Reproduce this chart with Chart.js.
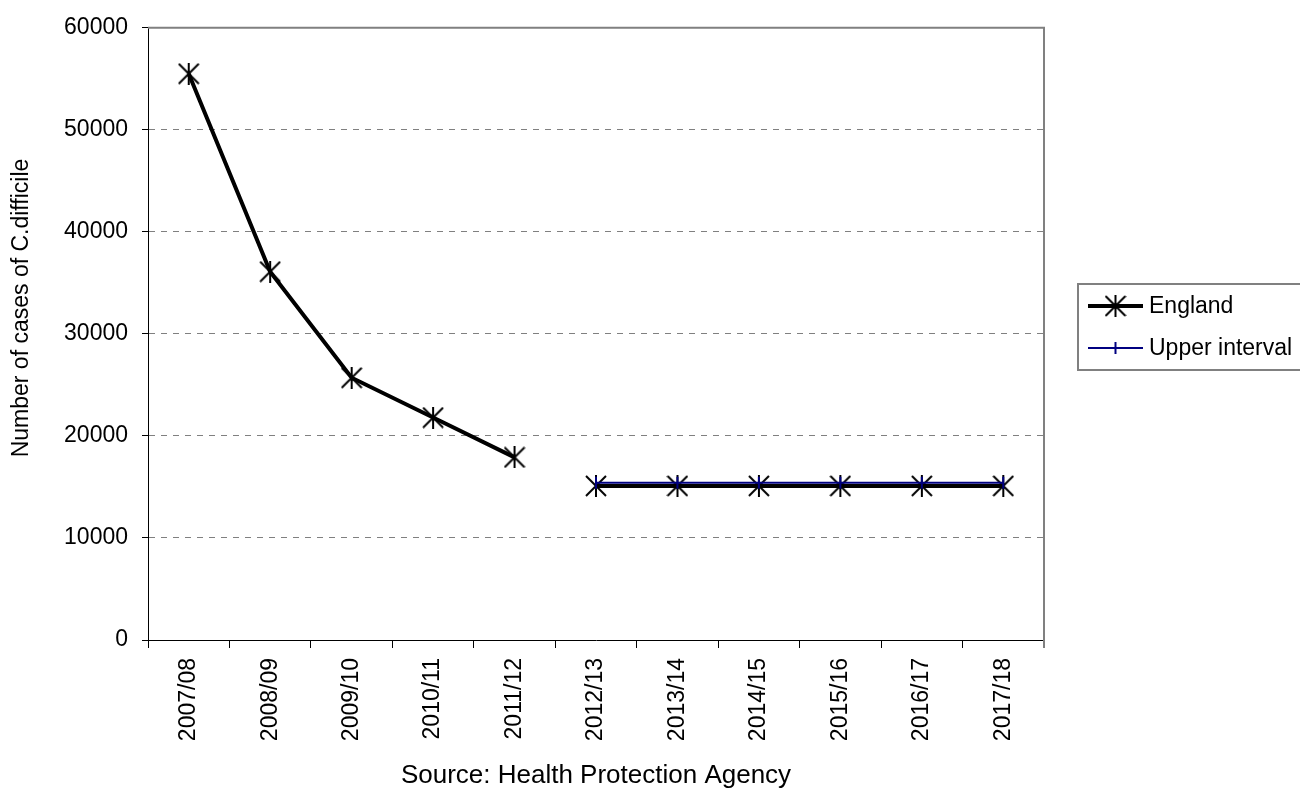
<!DOCTYPE html>
<html>
<head>
<meta charset="utf-8">
<title>C.difficile cases, England</title>
<script src="https://cdn.jsdelivr.net/npm/chart.js@4.4.1/dist/chart.umd.min.js"></script>
<style>
  html, body { margin: 0; padding: 0; background: #ffffff; }
  #wrap { position: relative; width: 1300px; height: 793px; }
</style>
</head>
<body>
<div id="wrap"><canvas id="chart" width="1300" height="793"></canvas></div>
<script>
// Financial years on the category axis
const seasons = ['2007/08', '2008/09', '2009/10', '2010/11', '2011/12', '2012/13',
                 '2013/14', '2014/15', '2015/16', '2016/17', '2017/18'];

// Reported cases of C.difficile in England
const englandCases = [55500, 36100, 25700, 21800, 17900, null, null, null, null, null, null];

// Projected level from 2012/13 (same style as England, not listed in the legend)
const englandProjection = [null, null, null, null, null, 15100, 15100, 15100, 15100, 15100, 15100];

// Upper interval of the projection
const upperInterval = [null, null, null, null, null, 15400, 15400, 15400, 15400, 15400, 15400];

// Value axis
const yMin = 0;
const yMax = 60000;
const yStep = 10000;

const yTitle = 'Number of cases of C.difficile';
const sourceNote = 'Source: Health Protection Agency';

const FONT = '"Liberation Sans", Arial, Helvetica, sans-serif';

// Asterisk marker: an X with a vertical stroke through it
function makeAsterisk(size, lw, color) {
  const c = document.createElement('canvas');
  c.width = size; c.height = size;
  const g = c.getContext('2d');
  g.strokeStyle = color;
  g.lineWidth = lw;
  g.beginPath();
  g.moveTo(1, 1); g.lineTo(size - 1, size - 1);
  g.moveTo(size - 1, 1); g.lineTo(1, size - 1);
  g.moveTo(size / 2, 0); g.lineTo(size / 2, size);
  g.stroke();
  return c;
}
const asterisk = makeAsterisk(22, 2, '#000000');

// Plot frame (top and right edges) in grey
const framePlugin = {
  id: 'frame',
  beforeDatasetsDraw(chart) {
    const { ctx, chartArea: a } = chart;
    ctx.save();
    ctx.strokeStyle = '#808080';
    ctx.lineWidth = 2;
    ctx.beginPath();
    ctx.moveTo(a.left, a.top);
    ctx.lineTo(a.right, a.top);
    ctx.lineTo(a.right, a.bottom + 8);
    ctx.stroke();
    ctx.restore();
  }
};

// Axis title, source note and boxed legend
const annotationPlugin = {
  id: 'annotations',
  afterDraw(chart) {
    const { ctx, chartArea: a } = chart;
    ctx.save();
    ctx.fillStyle = '#000000';

    // rotated value-axis title
    ctx.font = '23px ' + FONT;
    ctx.textAlign = 'center';
    ctx.textBaseline = 'middle';
    ctx.save();
    ctx.translate(22, 308);
    ctx.rotate(-Math.PI / 2);
    ctx.fillText(yTitle, 0, 0);
    ctx.restore();

    // source note under the category labels
    ctx.font = '26px ' + FONT;
    ctx.fillText(sourceNote, (a.left + a.right) / 2, 776);

    // legend box
    const bx = 1078, by = 284, bw = 230, bh = 86;
    ctx.strokeStyle = '#808080';
    ctx.lineWidth = 2;
    ctx.strokeRect(bx, by, bw, bh);

    const entries = [
      { ds: chart.data.datasets[0], y: 306, marker: 'asterisk' },
      { ds: chart.data.datasets[2], y: 348, marker: 'bar' }
    ];
    entries.forEach(e => {
      const x0 = 1088, x1 = 1143, xm = (x0 + x1) / 2;
      ctx.strokeStyle = e.ds.borderColor;
      ctx.lineWidth = e.ds.borderWidth;
      ctx.beginPath();
      ctx.moveTo(x0, e.y);
      ctx.lineTo(x1, e.y);
      ctx.stroke();
      if (e.marker === 'asterisk') {
        ctx.drawImage(asterisk, xm - 11, e.y - 11);
      } else {
        ctx.lineWidth = e.ds.pointBorderWidth;
        ctx.beginPath();
        ctx.moveTo(xm, e.y - e.ds.pointRadius);
        ctx.lineTo(xm, e.y + e.ds.pointRadius);
        ctx.stroke();
      }
      ctx.fillStyle = '#000000';
      ctx.font = '23px ' + FONT;
      ctx.textAlign = 'left';
      ctx.textBaseline = 'middle';
      ctx.fillText(e.ds.label, 1149, e.y + 1);
    });
    ctx.restore();
  }
};

new Chart(document.getElementById('chart'), {
  type: 'line',
  data: {
    labels: seasons,
    datasets: [
      {
        label: 'England',
        data: englandCases,
        borderColor: '#000000',
        backgroundColor: '#000000',
        borderWidth: 4,
        pointStyle: asterisk,
        pointRadius: 11,
        spanGaps: false,
        tension: 0,
        order: 1
      },
      {
        label: 'England projection',
        data: englandProjection,
        borderColor: '#000000',
        backgroundColor: '#000000',
        borderWidth: 4,
        pointStyle: asterisk,
        pointRadius: 11,
        spanGaps: false,
        tension: 0,
        order: 1
      },
      {
        label: 'Upper interval',
        data: upperInterval,
        borderColor: '#000080',
        backgroundColor: '#000080',
        borderWidth: 2,
        pointStyle: 'line',
        rotation: 90,
        pointRadius: 6,
        pointBorderWidth: 2,
        pointBorderColor: '#000080',
        spanGaps: false,
        tension: 0,
        order: 0
      }
    ]
  },
  options: {
    responsive: false,
    animation: false,
    devicePixelRatio: 1,
    layout: { padding: { left: 0, right: 256, top: 20, bottom: 0 } },
    plugins: {
      legend: { display: false },
      tooltip: { enabled: false }
    },
    scales: {
      x: {
        type: 'category',
        offset: true,
        afterFit(scale) { scale.height = 153; },
        grid: {
          display: true,
          offset: true,
          drawOnChartArea: false,
          drawTicks: true,
          tickLength: 8,
          tickColor: '#000000',
          tickWidth: 1
        },
        border: { display: true, color: '#000000', width: 1 },
        ticks: {
          color: '#000000',
          font: { family: FONT, size: 23 },
          minRotation: 90,
          maxRotation: 90,
          padding: 10,
          autoSkip: false
        }
      },
      y: {
        min: yMin,
        max: yMax,
        afterFit(scale) { scale.width = 148; },
        grid: {
          display: true,
          color: ctx => (ctx.tick && (ctx.tick.value === yMin || ctx.tick.value === yMax)) ? 'rgba(0,0,0,0)' : '#808080',
          lineWidth: 1,
          drawTicks: true,
          tickLength: 6,
          tickColor: '#000000',
          tickWidth: 1
        },
        border: { display: true, color: '#000000', width: 1, dash: [6, 6] },
        ticks: {
          stepSize: yStep,
          color: '#000000',
          font: { family: FONT, size: 23 },
          padding: 14,
          callback: value => String(value)
        }
      }
    }
  },
  plugins: [framePlugin, annotationPlugin]
});
</script>
</body>
</html>
